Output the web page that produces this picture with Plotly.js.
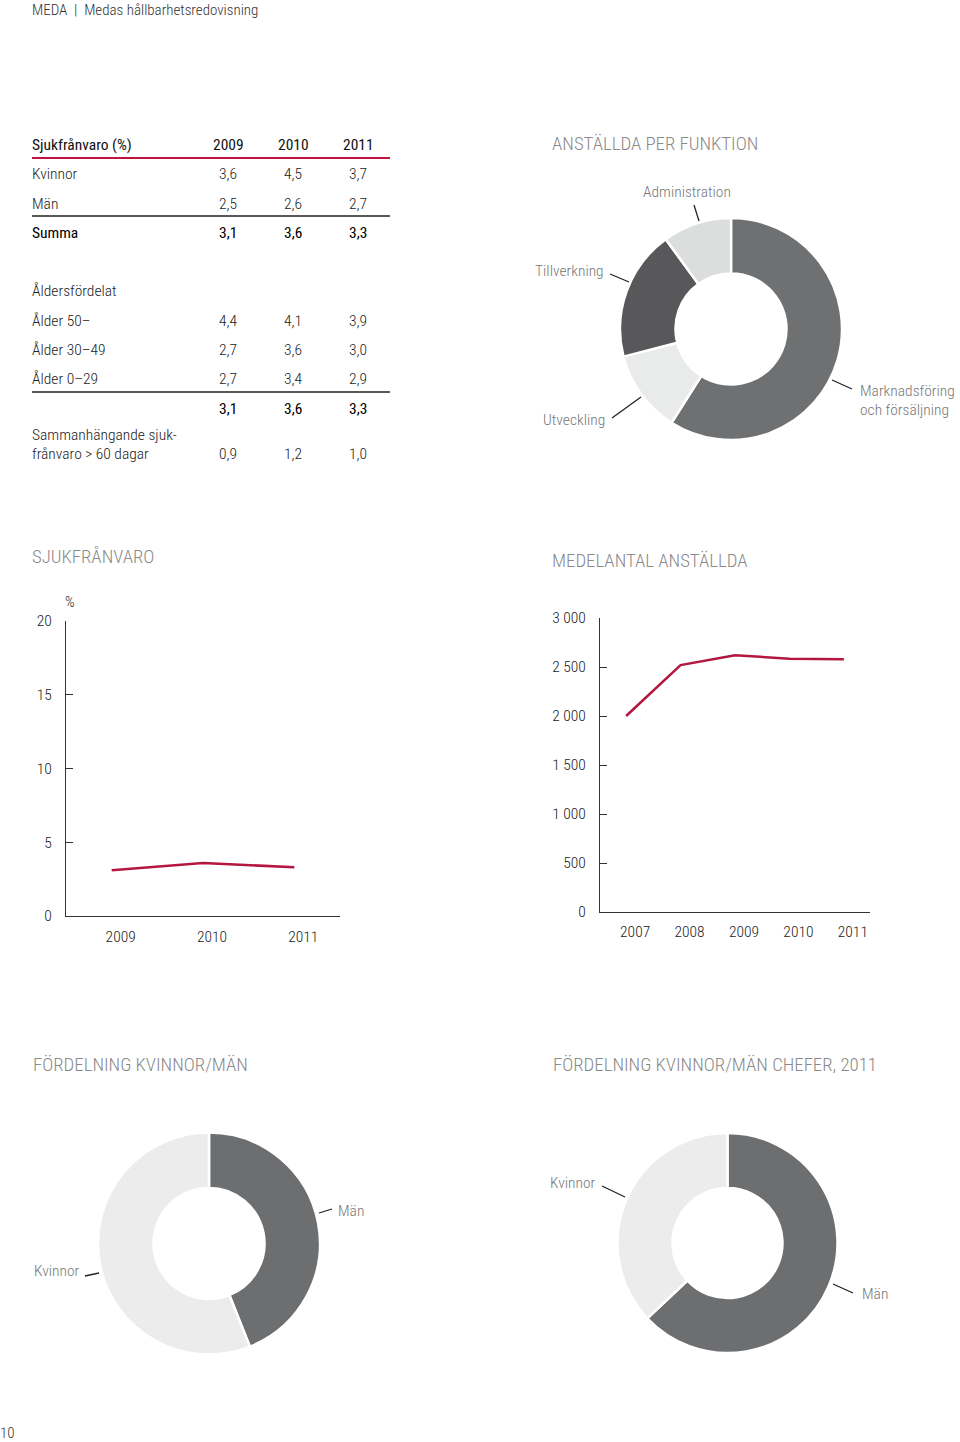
<!DOCTYPE html>
<html><head><meta charset="utf-8">
<script src="https://cdn.plot.ly/plotly-3.0.1.min.js"></script>
<style>html,body{margin:0;padding:0;background:#fff}#chart{width:960px;height:1442px}</style>
</head><body><div id="chart"></div>
<script>
// ---------- DATA ----------
const tableYears = ['2009', '2010', '2011'];
const rowKvinnor = [3.6, 4.5, 3.7];
const rowMan = [2.5, 2.6, 2.7];
const rowSumma = [3.1, 3.6, 3.3];
const rowAlder50 = [4.4, 4.1, 3.9];
const rowAlder3049 = [2.7, 3.6, 3.0];
const rowAlder029 = [2.7, 3.4, 2.9];
const rowAlderSumma = [3.1, 3.6, 3.3];
const rowSammanh = [0.9, 1.2, 1.0];

const funktionLabels = ['Marknadsföring och försäljning', 'Utveckling', 'Tillverkning', 'Administration'];
const funktionValues = [59, 12, 19, 10];

const sjukYears = [2009, 2010, 2011];
const sjukValues = [3.1, 3.6, 3.3];
const sjukTicks = [0, 5, 10, 15, 20];

const medelYears = [2007, 2008, 2009, 2010, 2011];
const medelValues = [2000, 2520, 2620, 2585, 2580];
const medelTicks = [0, 500, 1000, 1500, 2000, 2500, 3000];
const medelTickText = ['0', '500', '1 000', '1 500', '2 000', '2 500', '3 000'];

const konLabels = ['Män', 'Kvinnor'];
const konValues = [44, 56];
const chefValues = [63, 37];

// ---------- HELPERS ----------
const W = 960, H = 1442;
const X = p => p / W;
const Y = p => 1 - p / H;
const FONT = "'Roboto Condensed', 'Liberation Sans Narrow', 'DejaVu Sans Condensed', sans-serif";
const fmt = v => v.toFixed(1).replace('.', ',');
const RED = '#b3173f';

const annotations = [];
const shapes = [];
function txt(text, x, y, opt = {}) {
  const anchor = opt.anchor || 'left';
  const dx = anchor === 'left' ? -2 : (anchor === 'right' ? 2 : 0);
  annotations.push({
    text: text, xref: 'paper', yref: 'paper', x: X(x + dx), y: Y(y),
    xanchor: anchor, yanchor: 'middle', showarrow: false,
    font: {family: FONT, size: opt.size || 15.5, color: opt.color || '#222', weight: opt.weight || 300}
  });
}
function line(x0, y0, x1, y1, color, width) {
  shapes.push({type: 'line', xref: 'paper', yref: 'paper', x0: X(x0), y0: Y(y0), x1: X(x1), y1: Y(y1),
    line: {color: color || '#222', width: width || 1.3}});
}

// Header / page number
txt('MEDA  |  Medas hållbarhetsredovisning', 32, 10, {size: 15, color: '#333'});
txt('10', 0, 1433, {size: 15, color: '#333'});

// Section titles
const TITLE = {size: 18.8, color: '#8a8a8a'};
txt('ANSTÄLLDA PER FUNKTION', 552, 144, TITLE);
txt('SJUKFRÅNVARO', 32, 557, TITLE);
txt('MEDELANTAL ANSTÄLLDA', 552, 561, TITLE);
txt('FÖRDELNING KVINNOR/MÄN', 33, 1065, TITLE);
txt('FÖRDELNING KVINNOR/MÄN CHEFER, 2011', 553, 1065, TITLE);

// Table
const colX = [228, 293, 358];
function row(label, vals, y, color, weight) {
  if (label) txt(label, 32, y, {color: color, weight: weight});
  if (vals) vals.forEach((v, i) => txt(typeof v === 'number' ? fmt(v) : v, colX[i], y, {anchor: 'center', color: color, weight: weight}));
}
row('Sjukfrånvaro (%)', tableYears, 145, '#111', 400);
line(32, 158, 390, 158, '#c0143c', 2);
row('Kvinnor', rowKvinnor, 174);
row('Män', rowMan, 204);
line(32, 216, 390, 216, '#222', 1.3);
row('Summa', rowSumma, 233, '#000', 400);
row('Åldersfördelat', null, 291);
row('Ålder 50–', rowAlder50, 321);
row('Ålder 30–49', rowAlder3049, 350);
row('Ålder 0–29', rowAlder029, 379);
line(32, 392, 390, 392, '#222', 1.3);
row('', rowAlderSumma, 409, '#000', 400);
row('Sammanhängande sjuk-', null, 435);
row('frånvaro > 60 dagar', rowSammanh, 454);

// Donut labels and leader lines
const LBL = {size: 15.5, color: '#777'};
txt('Administration', 687, 192, Object.assign({anchor: 'center'}, LBL));
line(694, 205, 699, 221, '#222', 1.3);
txt('Tillverkning', 604, 271, Object.assign({anchor: 'right'}, LBL));
line(610, 274, 629, 282, '#222', 1.3);
txt('Utveckling', 605, 420, Object.assign({anchor: 'right'}, LBL));
line(612, 418, 641, 397, '#222', 1.3);
txt('Marknadsföring', 860, 391, LBL);
txt('och försäljning', 860, 410, LBL);
line(832, 380, 852, 389, '#222', 1.3);

txt('Män', 338, 1211, LBL);
line(319, 1213, 332, 1209, '#222', 1.3);
txt('Kvinnor', 80, 1271, Object.assign({anchor: 'right'}, LBL));
line(85, 1276, 99, 1273, '#222', 1.3);

txt('Kvinnor', 596, 1183, Object.assign({anchor: 'right'}, LBL));
line(602, 1186, 625, 1197, '#222', 1.3);
txt('Män', 862, 1294, LBL);
line(833, 1284, 853, 1293, '#222', 1.3);

// "%" unit label
txt('%', 65, 602, {size: 15, color: '#222'});

// ---------- TRACES ----------
const GRAYS_F = ['#6f7072', '#e9eaea', '#58585a', '#dcdddd'];
const KON_COL = ['#6d6e70', '#ebeceb'];
function donut(labels, values, colors, cx, cy, r) {
  return {
    type: 'pie', labels: labels, values: values, hole: 0.5, sort: false,
    direction: 'clockwise', rotation: 0, textinfo: 'none', hoverinfo: 'label+percent',
    marker: {colors: colors, line: {color: '#ffffff', width: 2.5}},
    domain: {x: [X(cx - r), X(cx + r)], y: [Y(cy + r), Y(cy - r)]},
    showlegend: false
  };
}

const traces = [
  donut(funktionLabels, funktionValues, GRAYS_F, 731, 329, 111),
  donut(konLabels, konValues, KON_COL, 209, 1243.5, 111),
  donut(konLabels, chefValues, KON_COL, 727.5, 1243, 110),
  {type: 'scatter', mode: 'lines', x: sjukYears, y: sjukValues, xaxis: 'x', yaxis: 'y',
   line: {color: RED, width: 2.5}, showlegend: false, hoverinfo: 'x+y'},
  {type: 'scatter', mode: 'lines', x: medelYears, y: medelValues, xaxis: 'x2', yaxis: 'y2',
   line: {color: RED, width: 2.5}, showlegend: false, hoverinfo: 'x+y'}
];

const axBase = {showgrid: false, zeroline: false, showline: true, linecolor: '#333', linewidth: 1,
  tickfont: {family: FONT, size: 15.5, color: '#222', weight: 300}, fixedrange: true};

const layout = {
  width: W, height: H, margin: {l: 0, r: 0, t: 0, b: 0},
  paper_bgcolor: '#fff', plot_bgcolor: 'rgba(0,0,0,0)',
  font: {family: FONT},
  xaxis: Object.assign({}, axBase, {domain: [X(66), X(340)], range: [2008.5, 2011.5],
    tickvals: sjukYears, ticktext: sjukYears.map(String), ticks: '', ticklabelshift: 9, ticklabelstandoff: 6,
    anchor: 'y'}),
  yaxis: Object.assign({}, axBase, {domain: [1 - 916 / H, 1 - 621 / H], range: [0, 20],
    tickvals: sjukTicks, ticktext: sjukTicks.map(String), ticks: 'inside', ticklen: 7, tickcolor: '#333',
    ticklabelstandoff: 10, anchor: 'x'}),
  xaxis2: Object.assign({}, axBase, {domain: [X(600), X(870)], range: [2006.52, 2011.48],
    tickvals: medelYears, ticktext: medelYears.map(String), ticks: '', ticklabelshift: 9, ticklabelstandoff: 5,
    anchor: 'y2'}),
  yaxis2: Object.assign({}, axBase, {domain: [1 - 912 / H, 1 - 618 / H], range: [0, 3000],
    tickvals: medelTicks, ticktext: medelTickText, ticks: 'inside', ticklen: 7, tickcolor: '#333',
    ticklabelstandoff: 10, anchor: 'x2'}),
  annotations: annotations,
  shapes: shapes
};

Plotly.newPlot('chart', traces, layout, {displayModeBar: false});
</script></body></html>
